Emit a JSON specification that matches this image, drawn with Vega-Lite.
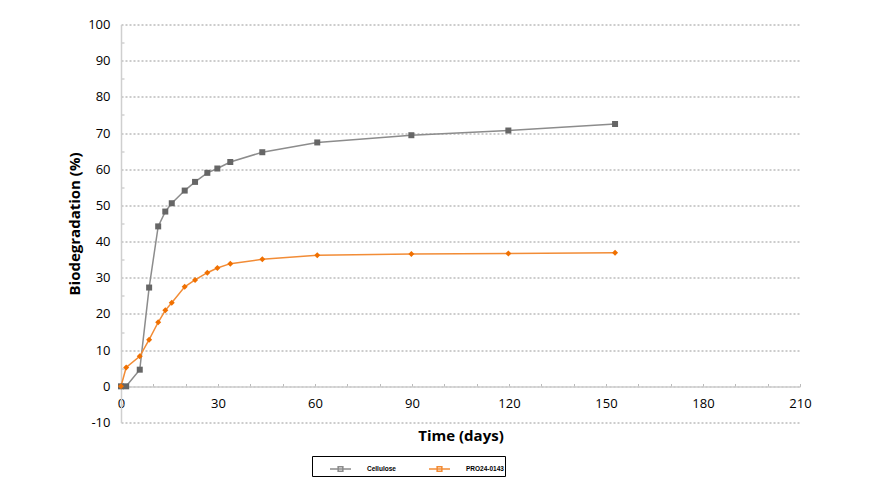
{
  "$schema": "https://vega.github.io/schema/vega-lite/v6.json",
  "width": 679,
  "height": 398,
  "autosize": {"type": "none"},
  "padding": {"left": 121, "top": 24.5, "right": 75, "bottom": 77.5},
  "background": "white",
  "config": {
    "view": {"stroke": null},
    "font": "Open Sans",
    "axis": {
      "labelFont": "Open Sans",
      "labelFontSize": 13,
      "labelColor": "#000000",
      "labelOverlap": false,
      "labelFlush": false,
      "titleFont": "Open Sans",
      "titleFontSize": 15,
      "titleFontWeight": "bold",
      "titleColor": "#000000",
      "domainColor": "#cfcfcf",
      "domainWidth": 1.5,
      "tickColor": "#bbbbbb",
      "tickSize": -3
    }
  },
  "data": {
    "values": [
      {"series": "Cellulose", "day": 0, "value": 0},
      {"series": "Cellulose", "day": 1.6, "value": 0},
      {"series": "Cellulose", "day": 5.8, "value": 4.6},
      {"series": "Cellulose", "day": 8.7, "value": 27.3},
      {"series": "Cellulose", "day": 11.5, "value": 44.2},
      {"series": "Cellulose", "day": 13.7, "value": 48.3},
      {"series": "Cellulose", "day": 15.7, "value": 50.6},
      {"series": "Cellulose", "day": 19.7, "value": 54.1},
      {"series": "Cellulose", "day": 22.9, "value": 56.5},
      {"series": "Cellulose", "day": 26.7, "value": 59.0},
      {"series": "Cellulose", "day": 29.8, "value": 60.2},
      {"series": "Cellulose", "day": 33.8, "value": 62.0},
      {"series": "Cellulose", "day": 43.7, "value": 64.7},
      {"series": "Cellulose", "day": 60.7, "value": 67.4},
      {"series": "Cellulose", "day": 89.8, "value": 69.4},
      {"series": "Cellulose", "day": 119.8, "value": 70.7},
      {"series": "Cellulose", "day": 152.8, "value": 72.5},
      {"series": "PRO24-0143", "day": 0, "value": 0},
      {"series": "PRO24-0143", "day": 1.6, "value": 5.2},
      {"series": "PRO24-0143", "day": 5.8, "value": 8.3},
      {"series": "PRO24-0143", "day": 8.7, "value": 12.9},
      {"series": "PRO24-0143", "day": 11.5, "value": 17.7},
      {"series": "PRO24-0143", "day": 13.7, "value": 21.0},
      {"series": "PRO24-0143", "day": 15.7, "value": 23.1},
      {"series": "PRO24-0143", "day": 19.7, "value": 27.5},
      {"series": "PRO24-0143", "day": 22.9, "value": 29.4},
      {"series": "PRO24-0143", "day": 26.7, "value": 31.4},
      {"series": "PRO24-0143", "day": 29.8, "value": 32.7},
      {"series": "PRO24-0143", "day": 33.8, "value": 33.9},
      {"series": "PRO24-0143", "day": 43.7, "value": 35.1},
      {"series": "PRO24-0143", "day": 60.7, "value": 36.2},
      {"series": "PRO24-0143", "day": 89.8, "value": 36.6},
      {"series": "PRO24-0143", "day": 119.8, "value": 36.7},
      {"series": "PRO24-0143", "day": 152.8, "value": 36.9}
    ]
  },
  "encoding": {
    "x": {
      "field": "day", "type": "quantitative",
      "scale": {"domain": [0, 210], "nice": false, "zero": false},
      "axis": {
        "values": [0, 10, 20, 30, 40, 50, 60, 70, 80, 90, 100, 110, 120, 130, 140, 150, 160, 170, 180, 190, 200, 210],
        "labelExpr": "datum.value % 30 === 0 ? toString(datum.value) : ''",
        "labelOverlap": false,
        "grid": false,
        "offset": -36,
        "labelPadding": 14,
        "title": "Time (days)",
        "titlePadding": 18
      }
    },
    "y": {
      "field": "value", "type": "quantitative",
      "scale": {"domain": [-10, 100], "nice": false},
      "axis": {
        "values": [-10, -5, 0, 5, 10, 15, 20, 25, 30, 35, 40, 45, 50, 55, 60, 65, 70, 75, 80, 85, 90, 95, 100],
        "labelExpr": "datum.value % 10 === 0 ? toString(datum.value) : ''",
        "labelOverlap": false,
        "grid": true,
        "gridDash": [2, 2],
        "gridColor": "#999999",
        "gridOpacity": {"condition": {"test": "datum.value % 10 !== 0", "value": 0}, "value": 1},
        "tickOpacity": {"condition": {"test": "datum.value % 10 === 0", "value": 0}, "value": 1},
        "labelPadding": 14,
        "title": "Biodegradation (%)",
        "titlePadding": 5
      }
    }
  },
  "layer": [
    {
      "data": {"values": [{}]},
      "mark": {"type": "rect", "fill": null, "stroke": "#5a5a5a", "strokeWidth": 1.5, "clip": false},
      "encoding": {
        "x": {
          "datum": -21.6, "type": "quantitative",
          "scale": {"domain": [0, 210], "nice": false, "zero": false},
          "axis": {
            "values": [0, 10, 20, 30, 40, 50, 60, 70, 80, 90, 100, 110, 120, 130, 140, 150, 160, 170, 180, 190, 200, 210],
            "labelExpr": "datum.value % 30 === 0 ? toString(datum.value) : ''",
            "labelOverlap": false,
            "grid": false,
            "offset": -36,
            "labelPadding": 14,
            "title": "Time (days)",
            "titlePadding": 18
          }
        },
        "x2": {"datum": 217.4},
        "y": {
          "datum": 103.7, "type": "quantitative",
          "scale": {"domain": [-10, 100], "nice": false},
          "axis": {
            "values": [-10, -5, 0, 5, 10, 15, 20, 25, 30, 35, 40, 45, 50, 55, 60, 65, 70, 75, 80, 85, 90, 95, 100],
            "labelExpr": "datum.value % 10 === 0 ? toString(datum.value) : ''",
            "labelOverlap": false,
            "grid": true,
            "gridDash": [2, 2],
            "gridColor": "#999999",
            "gridOpacity": {"condition": {"test": "datum.value % 10 !== 0", "value": 0}, "value": 1},
            "tickOpacity": {"condition": {"test": "datum.value % 10 === 0", "value": 0}, "value": 1},
            "labelPadding": 14,
            "title": "Biodegradation (%)",
            "titlePadding": 5
          }
        },
        "y2": {"datum": -27.0}
      }
    },
    {
      "mark": {"type": "line", "strokeWidth": 1.5},
      "encoding": {
        "color": {
          "field": "series", "type": "nominal",
          "scale": {"domain": ["Cellulose", "PRO24-0143"], "range": ["#8c8c8c", "#f28c36"]},
          "legend": {
            "orient": "none",
            "legendX": 191,
            "legendY": 431.5,
            "direction": "horizontal",
            "title": null,
            "strokeColor": "#000000",
            "padding": 1,
            "symbolOffset": 16,
            "labelOffset": 15,
            "columnPadding": 16,
            "labelFont": "Arial",
            "labelFontSize": 6.5,
            "labelFontWeight": "bold",
            "labelColor": "#000000",
            "symbolType": "M-1,0H1M-0.22,-0.22H0.22V0.22H-0.22Z",
            "symbolSize": 441,
            "symbolStrokeWidth": 1.6
          }
        }
      }
    },
    {
      "transform": [{"filter": "datum.series === 'Cellulose'"}],
      "mark": {"type": "point", "filled": true, "opacity": 1, "size": 36, "shape": "square", "color": "#666666"}
    },
    {
      "transform": [{"filter": "datum.series === 'PRO24-0143'"}],
      "mark": {"type": "point", "filled": true, "opacity": 1, "size": 36, "shape": "diamond", "color": "#f07000"}
    }
  ]
}
